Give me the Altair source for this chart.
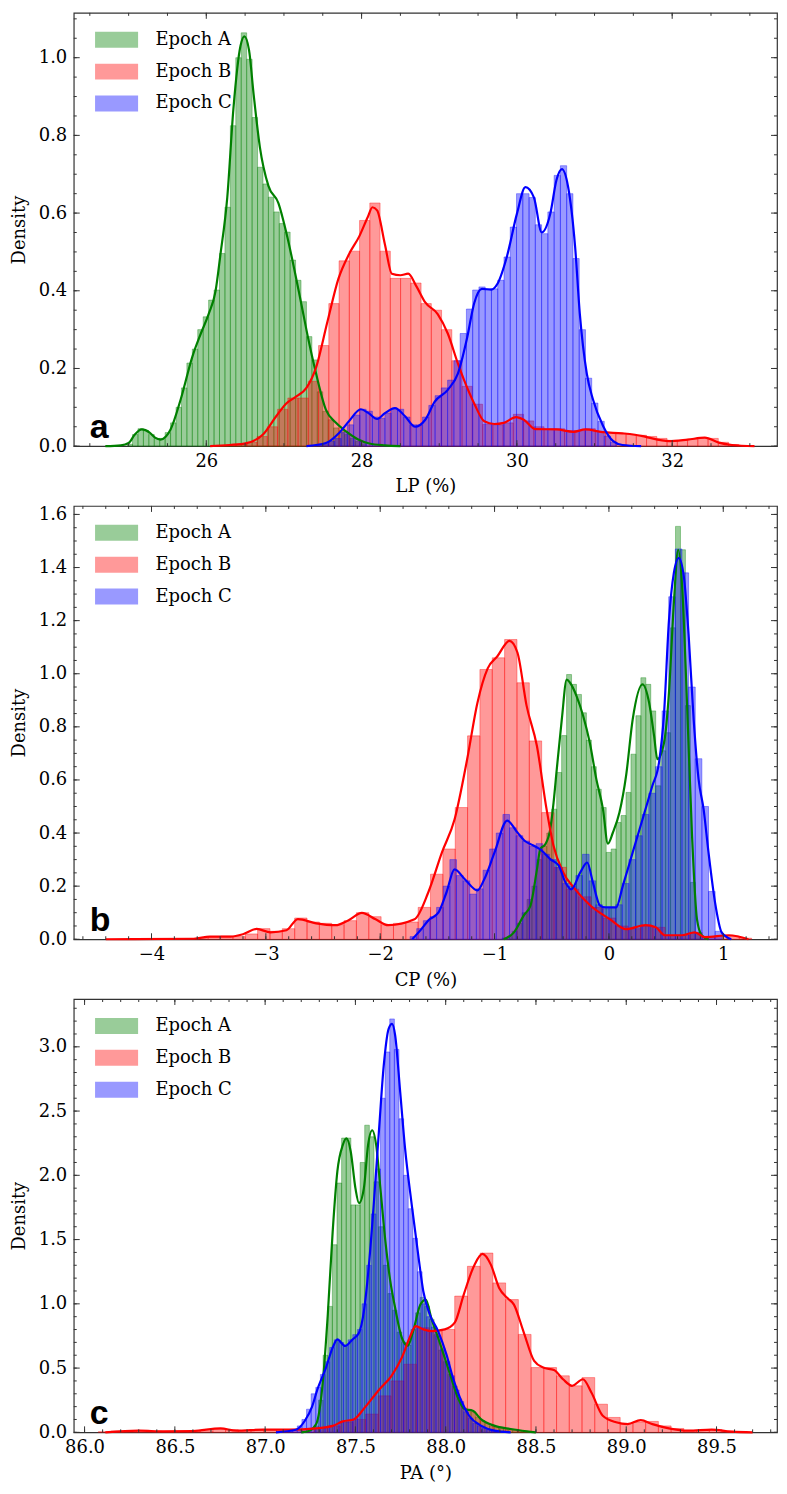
import altair as alt
import numpy as np
import pandas as pd

EPOCHS = ["Epoch A", "Epoch B", "Epoch C"]
COLORS = ["#008000", "#ff0000", "#0000ff"]

# ---------------- Panel a : LP (%) ----------------
LP_BIN_START = [24.98, 26.126, 27.413]
LP_BIN_WIDTH = [0.07, 0.132, 0.0807]
LP_HIST_A = [0.005, 0.03, 0.045, 0.04, 0.03, 0.02, 0.02, 0.035, 0.06, 0.1, 0.15, 0.214,
             0.25, 0.3, 0.333, 0.376, 0.402, 0.496, 0.615, 0.825, 1.0, 1.064, 0.996, 0.846,
             0.718, 0.675, 0.641, 0.603, 0.573, 0.551, 0.479, 0.427, 0.372, 0.282, 0.222,
             0.14, 0.09, 0.068, 0.047, 0.04, 0.03, 0.02, 0.012, 0.006]
LP_HIST_B = [0.002, 0.003, 0.005, 0.01, 0.025, 0.05, 0.095, 0.124, 0.124, 0.167, 0.259,
             0.367, 0.477, 0.502, 0.581, 0.626, 0.502, 0.432, 0.432, 0.42, 0.367, 0.35, 0.3,
             0.22, 0.154, 0.108, 0.056, 0.055, 0.06, 0.082, 0.065, 0.05, 0.045, 0.045, 0.04,
             0.04, 0.045, 0.038, 0.035, 0.033, 0.03, 0.028, 0.025, 0.02, 0.015, 0.015, 0.018,
             0.022, 0.02, 0.01, 0.004]
LP_HIST_C = [0.003, 0.006, 0.012, 0.02, 0.035, 0.055, 0.08, 0.095, 0.09, 0.075, 0.072, 0.085,
             0.098, 0.095, 0.075, 0.055, 0.055, 0.075, 0.105, 0.13, 0.15, 0.17, 0.22, 0.29,
             0.353, 0.402, 0.41, 0.405, 0.405, 0.427, 0.487, 0.564, 0.65, 0.65, 0.64, 0.57,
             0.547, 0.603, 0.697, 0.722, 0.65, 0.483, 0.3, 0.175, 0.111, 0.064, 0.026, 0.01]
LP_KDE_A_X = [24.7, 24.9, 25.0, 25.08, 25.17, 25.27, 25.34, 25.41, 25.48, 25.54, 25.67, 25.82,
              25.93, 26.03, 26.12, 26.18, 26.27, 26.35, 26.44, 26.49, 26.55, 26.61, 26.69,
              26.8, 26.93, 27.03, 27.2, 27.32, 27.41, 27.54, 27.67, 27.8, 27.95, 28.1, 28.3, 28.5]
LP_KDE_A_Y = [0.0, 0.002, 0.008, 0.03, 0.043, 0.035, 0.022, 0.017, 0.025, 0.043, 0.12, 0.23,
              0.29, 0.34, 0.40, 0.49, 0.64, 0.87, 1.03, 1.055, 1.02, 0.905, 0.77, 0.67, 0.625,
              0.55, 0.39, 0.27, 0.19, 0.094, 0.06, 0.038, 0.018, 0.007, 0.002, 0.0]
LP_KDE_B_X = [26.05, 26.3, 26.52, 26.73, 26.9, 27.03, 27.16, 27.29, 27.41, 27.56, 27.7, 27.84,
              27.97, 28.08, 28.14, 28.2, 28.3, 28.39, 28.5, 28.6, 28.71, 28.82, 28.98, 29.11,
              29.24, 29.32, 29.45, 29.58, 29.71, 29.83, 29.99, 30.09, 30.24, 30.51, 30.73,
              30.88, 31.1, 31.36, 31.62, 31.7, 31.96, 32.2, 32.42, 32.6, 32.77, 33.06]
LP_KDE_B_Y = [0.0, 0.003, 0.008, 0.03, 0.077, 0.11, 0.128, 0.15, 0.2, 0.32, 0.43, 0.495, 0.54,
              0.59, 0.615, 0.607, 0.52, 0.444, 0.44, 0.444, 0.41, 0.37, 0.34, 0.29, 0.213, 0.17,
              0.11, 0.064, 0.057, 0.06, 0.075, 0.068, 0.044, 0.043, 0.037, 0.043, 0.036, 0.033,
              0.026, 0.022, 0.013, 0.017, 0.022, 0.009, 0.003, 0.0]
LP_KDE_C_X = [27.29, 27.54, 27.71, 27.84, 27.99, 28.09, 28.2, 28.3, 28.43, 28.56, 28.69, 28.82,
              28.94, 29.11, 29.24, 29.36, 29.45, 29.55, 29.67, 29.75, 29.87, 30.0, 30.11, 30.22,
              30.32, 30.43, 30.51, 30.58, 30.66, 30.75, 30.81, 30.9, 30.98, 31.11, 31.24, 31.36, 31.6]
LP_KDE_C_Y = [0.0, 0.008, 0.034, 0.065, 0.095, 0.085, 0.07, 0.085, 0.098, 0.077, 0.05, 0.068,
              0.114, 0.145, 0.187, 0.28, 0.368, 0.405, 0.403, 0.418, 0.487, 0.598, 0.667, 0.64,
              0.55, 0.598, 0.685, 0.713, 0.667, 0.513, 0.342, 0.187, 0.12, 0.052, 0.013, 0.003, 0.0]

# ---------------- Panel b : CP (%) ----------------
CP_BIN_START = [-0.933, -3.612, -1.739]
CP_BIN_WIDTH = [0.0433, 0.108, 0.058]
CP_HIST_A = [0.005, 0.01, 0.03, 0.06, 0.1, 0.15, 0.2, 0.3, 0.35, 0.4, 0.49, 0.628, 0.767,
             0.997, 0.96, 0.922, 0.853, 0.75, 0.65, 0.565, 0.496, 0.327, 0.34, 0.44, 0.466,
             0.553, 0.697, 0.842, 0.985, 0.96, 0.86, 0.578, 0.71, 0.778, 1.173, 1.555, 1.467,
             0.88, 0.214, 0.026]
CP_HIST_B = [0.003, 0.008, 0.012, 0.01, 0.02, 0.04, 0.03, 0.04, 0.08, 0.065, 0.06, 0.055, 0.07,
             0.1, 0.085, 0.055, 0.06, 0.065, 0.12, 0.245, 0.34, 0.496, 0.766, 1.016, 1.06, 1.129,
             0.966, 0.747, 0.477, 0.271, 0.189, 0.16, 0.12, 0.08, 0.05, 0.04, 0.05, 0.045, 0.015,
             0.015, 0.025, 0.008, 0.01, 0.012, 0.004]
CP_HIST_C = [0.01, 0.04, 0.07, 0.085, 0.12, 0.2, 0.3, 0.24, 0.22, 0.17, 0.19, 0.26, 0.34, 0.4,
             0.47, 0.42, 0.39, 0.37, 0.35, 0.36, 0.32, 0.3, 0.27, 0.21, 0.2, 0.24, 0.32, 0.22,
             0.13, 0.115, 0.12, 0.13, 0.21, 0.3, 0.39, 0.47, 0.55, 0.65, 0.86, 1.29, 1.47, 1.38,
             0.95, 0.68, 0.5, 0.18, 0.03]
CP_KDE_A_X = [-0.92, -0.83, -0.744, -0.686, -0.629, -0.6, -0.556, -0.513, -0.484, -0.456, -0.412,
              -0.369, -0.34, -0.283, -0.225, -0.167, -0.11, -0.052, -0.009, 0.035, 0.092, 0.15,
              0.208, 0.294, 0.352, 0.395, 0.424, 0.482, 0.525, 0.568, 0.606, 0.64, 0.683, 0.727,
              0.77, 0.813, 0.87]
CP_KDE_A_Y = [0.0, 0.026, 0.09, 0.127, 0.264, 0.34, 0.358, 0.415, 0.515, 0.64, 0.828, 0.978,
              0.966, 0.916, 0.841, 0.74, 0.603, 0.49, 0.36, 0.402, 0.477, 0.615, 0.828, 0.96,
              0.89, 0.766, 0.678, 0.74, 0.928, 1.267, 1.467, 1.33, 0.89, 0.39, 0.076, 0.014, 0.0]
CP_KDE_B_X = [-4.4, -3.63, -3.49, -3.31, -3.2, -3.08, -2.96, -2.82, -2.72, -2.56, -2.39, -2.28,
              -2.16, -2.04, -1.93, -1.7, -1.58, -1.46, -1.35, -1.24, -1.15, -1.06, -0.975, -0.87,
              -0.8, -0.72, -0.63, -0.545, -0.485, -0.4, -0.295, -0.165, 0.01, 0.15, 0.32, 0.41,
              0.49, 0.64, 0.75, 0.84, 1.05, 1.22]
CP_KDE_B_Y = [0.0, 0.002, 0.01, 0.01, 0.019, 0.039, 0.026, 0.034, 0.076, 0.06, 0.053, 0.071,
              0.099, 0.075, 0.053, 0.075, 0.176, 0.327, 0.451, 0.677, 0.89, 1.02, 1.066, 1.124,
              1.08, 0.88, 0.729, 0.489, 0.353, 0.252, 0.188, 0.128, 0.075, 0.038, 0.053, 0.045,
              0.015, 0.015, 0.026, 0.008, 0.015, 0.0]
CP_KDE_C_X = [-1.72, -1.64, -1.58, -1.49, -1.42, -1.35, -1.26, -1.15, -1.09, -1.0, -0.89, -0.8,
              -0.74, -0.66, -0.59, -0.51, -0.44, -0.38, -0.33, -0.25, -0.19, -0.14, -0.08, -0.03,
              0.063, 0.121, 0.208, 0.294, 0.38, 0.438, 0.482, 0.525, 0.568, 0.611, 0.655, 0.698,
              0.741, 0.784, 0.828, 0.871, 0.928, 0.986, 1.07]
CP_KDE_C_Y = [0.0, 0.038, 0.071, 0.101, 0.177, 0.263, 0.226, 0.184, 0.226, 0.327, 0.447, 0.402,
              0.372, 0.353, 0.335, 0.301, 0.278, 0.214, 0.188, 0.252, 0.289, 0.214, 0.128, 0.12,
              0.12, 0.2, 0.327, 0.452, 0.578, 0.665, 0.85, 1.2, 1.38, 1.436, 1.367, 1.14, 0.828,
              0.603, 0.49, 0.327, 0.139, 0.026, 0.0]

# ---------------- Panel c : PA (deg) ----------------
PA_BIN_START = [87.27, 86.076, 87.127]
PA_BIN_WIDTH = [0.0256, 0.0705, 0.0256]
PA_HIST_A = [0.05, 0.25, 0.6, 0.98, 1.46, 1.94, 2.29, 2.29, 1.77, 1.77, 2.1, 2.39, 2.3, 1.95,
             1.6, 1.3, 1.08, 0.95, 0.78, 0.7, 0.68, 0.8, 0.93, 1.05, 0.98, 0.88, 0.76, 0.64,
             0.55, 0.45, 0.36, 0.26, 0.19, 0.17, 0.16, 0.12, 0.09, 0.07, 0.05, 0.04, 0.035,
             0.03, 0.02, 0.015, 0.01, 0.005]
PA_HIST_B = [0.005, 0.01, 0.01, 0.015, 0.01, 0.008, 0.006, 0.01, 0.012, 0.025, 0.02, 0.012,
             0.018, 0.02, 0.02, 0.02, 0.025, 0.03, 0.05, 0.08, 0.1, 0.142, 0.284, 0.4, 0.53,
             0.814, 0.79, 0.8, 1.06, 1.292, 1.395, 1.163, 1.033, 0.762, 0.504, 0.504, 0.44,
             0.362, 0.426, 0.219, 0.116, 0.07, 0.08, 0.085, 0.05, 0.03, 0.015, 0.015, 0.02,
             0.01, 0.005]
PA_HIST_C = [0.01, 0.02, 0.05, 0.1, 0.18, 0.3, 0.35, 0.45, 0.55, 0.66, 0.72, 0.7, 0.68, 0.72,
             0.76, 0.8, 1.0, 1.3, 1.7, 2.05, 2.6, 2.96, 3.217, 2.98, 2.44, 2.0, 1.74, 1.51, 1.25,
             1.0, 0.9, 0.82, 0.75, 0.65, 0.55, 0.44, 0.33, 0.24, 0.16, 0.11, 0.07, 0.05, 0.03,
             0.02, 0.012, 0.008, 0.004, 0.002]
PA_KDE_A_X = [87.2, 87.246, 87.283, 87.32, 87.347, 87.374, 87.4, 87.43, 87.45, 87.474, 87.5,
              87.52, 87.547, 87.57, 87.593, 87.615, 87.64, 87.666, 87.693, 87.72, 87.757, 87.79,
              87.82, 87.86, 87.89, 87.92, 87.958, 87.995, 88.03, 88.067, 88.104, 88.15, 88.195,
              88.268, 88.36, 88.45, 88.5]
PA_KDE_A_Y = [0.0, 0.013, 0.064, 0.40, 0.917, 1.56, 2.03, 2.235, 2.287, 2.186, 1.9, 1.783, 1.9,
              2.235, 2.351, 2.235, 1.873, 1.488, 1.178, 0.969, 0.736, 0.674, 0.79, 0.994, 1.033,
              0.891, 0.736, 0.58, 0.426, 0.271, 0.181, 0.168, 0.103, 0.052, 0.026, 0.008, 0.0]
PA_KDE_B_X = [86.115, 86.3, 86.44, 86.6, 86.753, 86.84, 86.99, 87.136, 87.28, 87.374, 87.43,
              87.49, 87.556, 87.63, 87.7, 87.757, 87.8, 87.834, 87.876, 87.92, 87.995, 88.05,
              88.1, 88.16, 88.204, 88.25, 88.296, 88.34, 88.378, 88.43, 88.49, 88.54, 88.6,
              88.65, 88.7, 88.76, 88.807, 88.87, 88.944, 89.008, 89.08, 89.145, 89.236, 89.345,
              89.473, 89.58, 89.7]
PA_KDE_B_Y = [0.0, 0.013, 0.008, 0.01, 0.031, 0.013, 0.021, 0.021, 0.031, 0.05, 0.085, 0.1, 0.2,
              0.33, 0.44, 0.581, 0.736, 0.827, 0.801, 0.788, 0.801, 0.853, 1.072, 1.305, 1.388,
              1.305, 1.124, 1.047, 0.994, 0.788, 0.556, 0.504, 0.485, 0.413, 0.362, 0.413, 0.31,
              0.129, 0.078, 0.064, 0.095, 0.064, 0.031, 0.013, 0.021, 0.005, 0.0]
PA_KDE_C_X = [87.06, 87.17, 87.22, 87.26, 87.29, 87.337, 87.374, 87.4, 87.443, 87.484, 87.52,
              87.547, 87.575, 87.6, 87.63, 87.657, 87.684, 87.703, 87.72, 87.748, 87.775, 87.812,
              87.85, 87.876, 87.912, 87.958, 88.004, 88.04, 88.086, 88.13, 88.195, 88.27, 88.36]
PA_KDE_C_Y = [0.0, 0.02, 0.09, 0.2, 0.336, 0.504, 0.659, 0.723, 0.672, 0.723, 0.775, 0.943,
              1.305, 1.744, 2.339, 2.855, 3.14, 3.178, 3.09, 2.649, 2.209, 1.77, 1.357, 1.098,
              0.917, 0.788, 0.607, 0.426, 0.246, 0.129, 0.052, 0.013, 0.0]

W, H = 706, 435
SERIF = "DejaVu Serif"
FRAME = "#333333"


def hist_df(starts, widths, heights):
    rows = []
    for ep, s, w, hs in zip(EPOCHS, starts, widths, heights):
        for i, h in enumerate(hs):
            rows.append({"epoch": ep, "x": s + i * w, "x2": s + (i + 1) * w, "h": h, "zero": 0.0})
    return pd.DataFrame(rows)


def kde_df(xs, ys):
    rows = []
    for ep, xl, yl in zip(EPOCHS, xs, ys):
        for x, y in zip(xl, yl):
            rows.append({"epoch": ep, "x": x, "y": y})
    return pd.DataFrame(rows)


def tick_vals(step, dom):
    lo = np.ceil(dom[0] / step - 1e-9) * step
    vals = np.arange(lo, dom[1] + 1e-9, step)
    return [round(float(v), 6) for v in vals if dom[0] - 1e-9 <= v <= dom[1] + 1e-9]


def panel(hdf, kdf, xdom, ydom, xmajor, xminor, ymajor, yminor, xtitle, xfmt, label):
    xs = alt.Scale(domain=xdom, nice=False, zero=False)
    ys = alt.Scale(domain=ydom, nice=False, zero=False)
    cs = alt.Scale(domain=EPOCHS, range=COLORS)
    common = dict(labelFont=SERIF, labelFontSize=18, titleFont=SERIF, titleFontSize=18,
                  titleFontWeight="normal", labelColor="black", titleColor="black",
                  grid=False, ticks=False, tickSize=0, domain=False)
    xax = alt.Axis(values=tick_vals(xmajor, xdom), format=xfmt, title=xtitle,
                   labelPadding=6, titlePadding=8, **common)
    yax = alt.Axis(values=tick_vals(ymajor, ydom), format=".1f", title="Density",
                   labelPadding=7, titlePadding=10, **common)
    bars = alt.Chart(hdf).mark_rect(fillOpacity=0.4, strokeOpacity=0.45, strokeWidth=0.8).encode(
        x=alt.X("x:Q", scale=xs, axis=xax),
        x2="x2:Q",
        y=alt.Y("h:Q", scale=ys, axis=yax),
        y2="zero:Q",
        fill=alt.Fill("epoch:N", scale=cs, legend=alt.Legend(
            title=None, orient="none", legendX=27, legendY=11,
            symbolType="M-1.35,-0.5H1.35V0.5H-1.35Z", symbolSize=1024,
            symbolOpacity=0.4, symbolStrokeWidth=0, labelFont=SERIF, labelFontSize=18,
            labelColor="black", labelOffset=23, rowPadding=7, padding=0)),
        stroke=alt.Stroke("epoch:N", scale=cs, legend=None),
    )
    lines = alt.Chart(kdf).mark_line(strokeWidth=2.2, interpolate="monotone").encode(
        x=alt.X("x:Q", scale=xs, axis=xax),
        y=alt.Y("y:Q", scale=ys, axis=yax),
        stroke=alt.Stroke("epoch:N", scale=cs, legend=None),
    )
    layers = [bars, lines]
    for vals, size in [(tick_vals(xmajor, xdom), 6), (tick_vals(xminor, xdom), 3)]:
        d = pd.DataFrame({"x": vals})
        layers.append(alt.Chart(d).mark_rule(color=FRAME, strokeWidth=1).encode(
            x=alt.X("x:Q", scale=xs, axis=xax), y=alt.value(H), y2=alt.value(H - size)))
        layers.append(alt.Chart(d).mark_rule(color=FRAME, strokeWidth=1).encode(
            x=alt.X("x:Q", scale=xs, axis=xax), y=alt.value(0), y2=alt.value(size)))
    for vals, size in [(tick_vals(ymajor, ydom), 6), (tick_vals(yminor, ydom), 3)]:
        d = pd.DataFrame({"h": vals})
        layers.append(alt.Chart(d).mark_rule(color=FRAME, strokeWidth=1).encode(
            y=alt.Y("h:Q", scale=ys, axis=yax), x=alt.value(0), x2=alt.value(size)))
        layers.append(alt.Chart(d).mark_rule(color=FRAME, strokeWidth=1).encode(
            y=alt.Y("h:Q", scale=ys, axis=yax), x=alt.value(W), x2=alt.value(W - size)))
    lab = alt.Chart(pd.DataFrame({"t": [label]})).mark_text(
        font="Liberation Sans", fontWeight="bold", fontSize=34, align="left",
        baseline="alphabetic", color="black").encode(
        text="t:N", x=alt.value(16), y=alt.value(H - 8))
    layers.append(lab)
    return alt.layer(*layers).properties(width=W, height=H)


pa = panel(hist_df(LP_BIN_START, LP_BIN_WIDTH, [LP_HIST_A, LP_HIST_B, LP_HIST_C]),
           kde_df([LP_KDE_A_X, LP_KDE_B_X, LP_KDE_C_X], [LP_KDE_A_Y, LP_KDE_B_Y, LP_KDE_C_Y]),
           [24.293, 33.35], [0, 1.1154], 2, 0.5, 0.2, 0.05, "LP (%)", "d", "a")
pb = panel(hist_df(CP_BIN_START, CP_BIN_WIDTH, [CP_HIST_A, CP_HIST_B, CP_HIST_C]),
           kde_df([CP_KDE_A_X, CP_KDE_B_X, CP_KDE_C_X], [CP_KDE_A_Y, CP_KDE_B_Y, CP_KDE_C_Y]),
           [-4.68, 1.47], [0, 1.632], 1, 0.2, 0.2, 0.05, "CP (%)", "d", "b")
pc = panel(hist_df(PA_BIN_START, PA_BIN_WIDTH, [PA_HIST_A, PA_HIST_B, PA_HIST_C]),
           kde_df([PA_KDE_A_X, PA_KDE_B_X, PA_KDE_C_X], [PA_KDE_A_Y, PA_KDE_B_Y, PA_KDE_C_Y]),
           [85.94, 89.835], [0, 3.372], 0.5, 0.1, 0.5, 0.1, "PA (°)", ".1f", "c")

chart = alt.vconcat(pa, pb, pc, spacing=7).resolve_scale(
    x="independent", y="independent", fill="independent", stroke="independent"
).resolve_legend(fill="independent", stroke="independent").properties(
    padding={"left": 1, "top": 0, "right": 0, "bottom": 0}, background="white"
).configure_view(stroke=FRAME, strokeWidth=1.2)

chart.save("out.html", embed_options={"renderer": "svg", "actions": False})
